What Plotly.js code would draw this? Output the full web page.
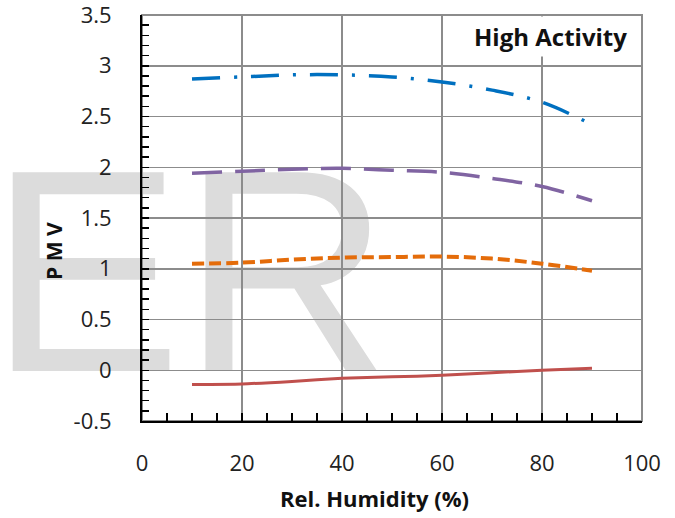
<!DOCTYPE html>
<html>
<head>
<meta charset="utf-8">
<script src="https://cdn.plot.ly/plotly-3.0.1.min.js"></script>
<style>html,body{margin:0;padding:0;background:#fff;}#chart{width:675px;height:518px;}</style>
</head>
<body>
<div id="chart"></div>
<script>
// Data
var humidity = [10, 20, 30, 40, 50, 60, 70, 80, 90];
var pmvBlue   = [2.87, 2.89, 2.91, 2.91, 2.89, 2.84, 2.76, 2.64, 2.42];
var pmvPurple = [1.94, 1.96, 1.98, 1.99, 1.97, 1.95, 1.89, 1.81, 1.67];
var pmvOrange = [1.05, 1.06, 1.09, 1.11, 1.115, 1.12, 1.10, 1.05, 0.98];
var pmvRed    = [-0.14, -0.135, -0.11, -0.08, -0.065, -0.05, -0.025, 0.00, 0.02];
var xTickVals = [0, 20, 40, 60, 80, 100];
var yTickVals = [-0.5, 0, 0.5, 1, 1.5, 2, 2.5, 3, 3.5];
var yTickText = ['-0.5', '0', '0.5', '1', '1.5', '2', '2.5', '3', '3.5'];

var W = 675, H = 518, L = 142, R = 33, T = 15, B = 97;
var pw = W - L - R, ph = H - T - B;

var wm = "<svg xmlns='http://www.w3.org/2000/svg' width='675' height='518' viewBox='0 0 675 518'>" +
  "<text x='-11' y='371' font-family='Liberation Sans, Arial, sans-serif' font-size='289' fill='#dcdcdc'>ER</text></svg>";

var font = 'Open Sans, Lato, sans-serif';

var traces = [
  {x: humidity, y: pmvBlue, mode: 'lines', line: {color: '#0070c0', width: 3.5, dash: '28px,14px,3px,14px', shape: 'spline'}, hoverinfo: 'x+y'},
  {x: humidity, y: pmvPurple, mode: 'lines', line: {color: '#8064a2', width: 3.5, dash: '30px,13px', shape: 'spline'}, hoverinfo: 'x+y'},
  {x: humidity, y: pmvOrange, mode: 'lines', line: {color: '#e46c0a', width: 4, dash: '12px,5px', shape: 'spline'}, hoverinfo: 'x+y'},
  {x: humidity, y: pmvRed, mode: 'lines', line: {color: '#c0504d', width: 3, shape: 'spline', smoothing: 0.6}, hoverinfo: 'x+y'}
];

var layout = {
  width: W, height: H,
  margin: {l: L, r: R, t: T, b: B},
  paper_bgcolor: '#ffffff',
  plot_bgcolor: 'rgba(0,0,0,0)',
  showlegend: false,
  font: {family: font, color: '#222', size: 22},
  xaxis: {
    range: [0, 100], tickvals: xTickVals, ticktext: xTickVals.map(String),
    showgrid: true, gridcolor: '#8c8c8c', gridwidth: 1.5, zeroline: false,
    showline: true, linecolor: '#000', linewidth: 2,
    ticks: 'inside', ticklen: 8, tickwidth: 1.5, tickcolor: '#000',
    ticklabelstandoff: 22, ticklabeloverflow: 'allow',
    minor: {dtick: 5, tick0: 0, ticks: 'inside', ticklen: 8, tickwidth: 1.5, tickcolor: '#000', showgrid: false},
    tickfont: {family: font, size: 22, color: '#222'},
    fixedrange: true
  },
  yaxis: {
    range: [-0.5, 3.5], tickvals: yTickVals, ticktext: yTickText,
    showgrid: true, gridcolor: '#8c8c8c', gridwidth: 1.5, zeroline: false,
    showline: true, linecolor: '#000', linewidth: 2,
    ticks: 'inside', ticklen: 7, tickwidth: 1.5, tickcolor: '#000',
    ticklabelstandoff: 24, ticklabeloverflow: 'allow',
    minor: {dtick: 0.1, tick0: 0, ticks: 'inside', ticklen: 7, tickwidth: 1.5, tickcolor: '#000', showgrid: false},
    tickfont: {family: font, size: 22, color: '#222'},
    fixedrange: true
  },
  shapes: [
    {type: 'rect', xref: 'paper', yref: 'paper', x0: 0, x1: 1, y0: 0, y1: 1, line: {color: '#8c8c8c', width: 2}, layer: 'below'}
  ],
  images: [
    {source: 'data:image/svg+xml;charset=utf-8,' + encodeURIComponent(wm),
     xref: 'paper', yref: 'paper', x: -L / pw, y: 1 + T / ph, sizex: W / pw, sizey: H / ph,
     xanchor: 'left', yanchor: 'top', sizing: 'stretch', layer: 'below'}
  ],
  annotations: [
    {text: '<b>High Activity</b>', xref: 'paper', yref: 'paper', x: (631 - L) / pw, y: (H - B - 36) / ph,
     xanchor: 'right', yanchor: 'middle', showarrow: false, bgcolor: '#ffffff', borderpad: 3,
     font: {family: font, size: 24, color: '#111'}},
    {text: '<b>Rel. Humidity (%)</b>', xref: 'paper', yref: 'paper', x: (374 - L) / pw, y: (H - B - 498) / ph,
     xanchor: 'center', yanchor: 'middle', showarrow: false,
     font: {family: font, size: 22, color: '#111'}},
    {text: '<b>P M V</b>', xref: 'paper', yref: 'paper', x: (54 - L) / pw, y: (H - B - 251) / ph,
     xanchor: 'center', yanchor: 'middle', showarrow: false, textangle: -90,
     font: {family: font, size: 21, color: '#111'}}
  ]
};

Plotly.newPlot('chart', traces, layout, {staticPlot: true, displayModeBar: false});
</script>
</body>
</html>
